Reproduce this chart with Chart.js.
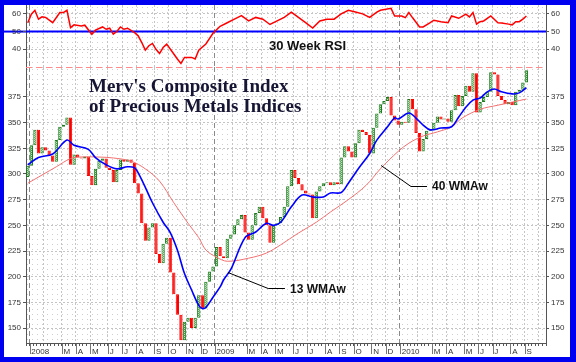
<!DOCTYPE html>
<html lang="en">
<head>
<meta charset="UTF-8">
<title>Merv's Composite Index of Precious Metals Indices</title>
<style>
  body {
    margin: 0;
    width: 576px;
    height: 362px;
    position: relative;
    overflow: hidden;
    background: #fff;
    font-family: "Liberation Sans", Arial, sans-serif;
  }
  #frame {
    position: absolute;
    left: 0; top: 0;
    width: 576px; height: 362px;
    box-sizing: border-box;
    border: 5px solid #0000f0;
    border-left-width: 4px;
    border-right-width: 6px;
    z-index: 5;
    pointer-events: none;
  }
  #rsiChart { position: absolute; left: 0; top: 0; z-index: 2; }
  #priceChart { position: absolute; left: 0; top: 67px; z-index: 1; }
  .title {
    position: absolute;
    left: 89px;
    font: bold 19px "Liberation Serif", "Times New Roman", serif;
    line-height: 20px;
    color: #161634;
    white-space: nowrap;
    z-index: 3;
  }
  .note {
    position: absolute;
    font: bold 12px "Liberation Sans", Arial, sans-serif;
    line-height: 12px;
    color: #111;
    white-space: nowrap;
    z-index: 3;
  }
</style>
</head>
<body>
<canvas id="rsiChart" width="576" height="70"></canvas>
<canvas id="priceChart" width="576" height="295"></canvas>
<div class="title" style="top:76px">Merv's Composite Index</div>
<div class="title" style="top:96px">of Precious Metals Indices</div>
<div class="note" style="left:269px; top:40px; font-size:13px">30 Week RSI</div>
<div class="note" style="left:432px; top:180px">40 WMAw</div>
<div class="note" style="left:290px; top:283px">13 WMAw</div>
<div id="frame"></div>

<script src="https://cdn.jsdelivr.net/npm/chart.js"></script>
<script>
  // weekly closes, first week ends 2007-12-28; each box runs from the previous close
  const firstOpen = 297;
  const closes = [
    308, 328, 343, 320, 326, 323, 318, 312, 333, 346, 348, 355, 309, 319, 316, 315, 317, 298, 289, 305,
    313, 315, 306, 304, 292, 304, 314, 312, 314, 311, 291, 281, 252, 235, 248, 252, 222, 213, 232, 238,
    204, 183, 163, 138, 156, 160, 150, 160, 182, 169, 195, 205, 210, 229, 220, 218, 237, 241, 250, 256,
    260, 243, 236, 250, 262, 268, 257, 250, 233, 250, 252, 258, 268, 288, 304, 296, 290, 284, 281, 280,
    257, 283, 288, 291, 292, 289, 292, 290, 316, 327, 322, 316, 330, 343, 341, 338, 320, 345, 359, 368,
    371, 375, 357, 352, 348, 351, 350, 373, 363, 340, 322, 334, 342, 343, 350, 356, 353, 354, 351, 362,
    377, 366, 376, 386, 380, 398, 360, 370, 375, 380, 399, 397, 376, 372, 368, 370, 367, 380, 382, 389,
    401
  ];

  // 13 week weighted average (blue), read at some weeks
  const ma13Weeks = [0, 3, 7, 11, 13, 17, 19, 22, 25, 28, 30, 31, 33, 35, 38, 40, 42, 44, 46, 48, 49, 50, 52, 54, 55, 57, 61, 64, 67, 69,
    71, 74, 77, 80, 83, 85, 88, 90, 93, 96, 98, 101, 103, 104, 107, 109, 111, 113, 116, 119, 121, 123, 125, 127, 129, 131, 133, 136, 138, 140];
  const ma13 = [309, 316, 319.5, 333, 328, 324, 316, 309, 305, 307, 306, 301, 287, 272, 253, 243, 226, 203, 187, 172, 169, 170, 180, 190, 197, 207, 238, 243.5, 252, 250,
    253, 268, 279.5, 277.6, 277.6, 281.5, 282, 291, 306, 320, 333, 346, 354.6, 353.6, 359.4, 354.5, 347.7, 343, 344.8, 346, 355.5, 365, 372, 374, 380, 382.8, 380, 378, 379, 384];

  // 40 week weighted average (light red)
  const ma40Weeks = [0, 4, 8, 12, 15, 20, 24, 29, 33, 37, 41, 45, 48, 50, 53, 56, 62, 67, 71, 76, 81, 85, 90, 95, 99, 104, 107, 111, 115, 119, 122, 127, 132, 136, 140];
  const ma40 = [291, 299, 307, 315, 316.6, 316.5, 315.6, 312.5, 305, 293, 272, 252, 238, 226, 219, 215, 218, 223, 231, 242.5, 253, 263, 275, 289, 305, 322, 330, 337, 341, 346, 354.6, 363, 367, 370, 373];

  // 30 week RSI
  const rsiWeeks = [0, 1, 2, 3, 4, 5, 7, 9, 10, 11, 12, 13, 15, 16, 18, 19, 21, 22, 23, 24, 25, 26, 27, 28, 30, 31, 32, 33, 34, 35,
    36, 37, 38, 39, 41, 42, 43, 44, 46, 47, 48, 50, 52, 54, 56, 58, 60, 62, 64, 66, 68, 70, 72, 74, 76, 78, 80, 82, 84, 86,
    88, 90, 92, 94, 96, 98, 99, 102, 103, 105, 106, 107, 108, 110, 111, 113, 114, 116, 118, 119, 121, 123, 124, 125, 126, 127, 128, 130, 132, 133,
    135, 136, 137, 138, 139, 140];
  const rsi = [55, 59.8, 62, 57, 58.3, 58, 55, 60.7, 60.7, 62, 52.2, 53.8, 53.2, 53.6, 48.5, 50.8, 52.6, 51.3, 51.9, 48.5, 50, 52.6, 51.3, 51.9, 49.4, 47.6, 43.8, 39.5, 42, 43.3,
    40, 37.6, 41, 42.9, 37.3, 34.5, 32, 35.4, 35.4, 34.5, 39.5, 43, 49, 53, 55, 57, 59, 56, 58, 57, 54, 56, 58, 61, 58, 55, 52, 56, 57, 57,
    60, 62, 61, 60, 58, 61, 62, 63.1, 58.8, 58.8, 57.9, 60.7, 57.9, 52.6, 52.6, 55, 56.4, 55.6, 55, 58.8, 57.5, 59.8, 58.3, 60.7, 54.2, 55.6, 56, 58.8, 55, 54.8,
    54.2, 53.8, 55.6, 55.6, 57, 58.8];

  const priceTicks = [150, 175, 200, 225, 250, 275, 300, 325, 350, 375];
  const rsiTicks = [40, 50, 60];
  const monthLetters = ['', '', 'M', 'A', 'M', 'J', 'J', 'A', 'S', 'O', 'N', 'D']; // January shows the year, February no label
  const weekCount = 146;
  const lastLabelWeek = 141;

  // week labels and month tick text
  const weeks = [];
  const monthText = [];
  const newMonth = [];
  const start = Date.UTC(2007, 11, 28);
  for (let i = 0; i < weekCount; i++) {
    const d = new Date(start + i * 7 * 86400000);
    const p = new Date(start + (i - 1) * 7 * 86400000);
    weeks.push(d.toISOString().slice(0, 10));
    const changed = i > 0 && d.getUTCMonth() !== p.getUTCMonth();
    newMonth.push(changed);
    const m = d.getUTCMonth();
    monthText.push(changed && i <= lastLabelWeek ? (m === 0 ? String(d.getUTCFullYear()) : monthLetters[m]) : '');
  }
  const newYear = weeks.map((w, i) => newMonth[i] && w.slice(5, 7) === '01');

  const boxes = closes.map((c, i) => [i ? closes[i - 1] : firstOpen, c]);
  const asPoints = (idx, vals) => idx.map((k, j) => ({ x: weeks[k], y: vals[j] }));

  // green stipple fill for rising weeks
  function makeStipple(a, b) {
    const c = document.createElement('canvas');
    c.width = 2; c.height = 2;
    const g = c.getContext('2d');
    g.fillStyle = b; g.fillRect(0, 0, 2, 2);
    g.fillStyle = a; g.fillRect(0, 0, 1, 1); g.fillRect(1, 1, 1, 1);
    return g.createPattern(c, 'repeat');
  }
  const upFill = makeStipple('#3a9a3a', '#b8e6b8');

  // faint dot texture behind the plot
  function makeDots() {
    const c = document.createElement('canvas');
    c.width = 5; c.height = 5;
    const g = c.getContext('2d');
    g.fillStyle = '#cfcfcf';
    g.fillRect(2, 2, 1, 1);
    return g.createPattern(c, 'repeat');
  }
  const dotFill = makeDots();
  const dotPlugin = {
    id: 'dots',
    beforeDraw(chart) {
      const a = chart.chartArea;
      const ctx = chart.ctx;
      ctx.save();
      ctx.fillStyle = dotFill;
      ctx.fillRect(a.left, a.top, a.right - a.left, a.bottom - a.top);
      ctx.restore();
    }
  };

  const tickFont = { family: 'Liberation Sans', size: 8 };
  const gridColor = ctx => newYear[ctx.index] ? '#8a8a8a' : (newMonth[ctx.index] ? '#c4c4c4' : 'rgba(0,0,0,0)');
  const gridDash = ctx => newYear[ctx.index] ? [5, 3] : [2, 2];

  function yAxis(pos, min, max, ticks, width, onArea) {
    return {
      position: pos,
      min: min,
      max: max,
      afterBuildTicks: s => { s.ticks = ticks.map(v => ({ value: v })); },
      afterFit: s => { s.width = width; s.paddingTop = 0; s.paddingBottom = 0; },
      ticks: { font: tickFont, color: '#333', padding: 2 },
      grid: { drawOnChartArea: onArea, color: '#c4c4c4', tickColor: '#555', tickLength: 3 },
      border: { color: '#555', dash: [2, 2] }
    };
  }

  // RSI panel: blue 50 line (runs under the left labels too) and dashed 30 line
  const rsiLines = {
    id: 'rsiLines',
    beforeDraw(chart) {
      const ctx = chart.ctx;
      const y = chart.scales.y.getPixelForValue(50);
      ctx.save();
      ctx.strokeStyle = '#0000ff';
      ctx.lineWidth = 2;
      ctx.beginPath();
      ctx.moveTo(0, y);
      ctx.lineTo(chart.chartArea.left, y);
      ctx.stroke();
      ctx.restore();
    },
    beforeDatasetsDraw(chart) {
      const ctx = chart.ctx;
      const a = chart.chartArea;
      const y = chart.scales.y;
      const y30 = Math.round(y.getPixelForValue(30)) + 0.5;
      ctx.save();
      ctx.strokeStyle = '#ff8c8c';
      ctx.lineWidth = 1;
      ctx.setLineDash([6, 4]);
      ctx.beginPath();
      ctx.moveTo(a.left, y30);
      ctx.lineTo(a.right, y30);
      ctx.stroke();
      ctx.setLineDash([]);
      ctx.strokeStyle = '#0000ff';
      ctx.lineWidth = 2;
      ctx.beginPath();
      ctx.moveTo(a.left, y.getPixelForValue(50));
      ctx.lineTo(a.right, y.getPixelForValue(50));
      ctx.stroke();
      ctx.restore();
    }
  };

  new Chart(document.getElementById('rsiChart'), {
    type: 'line',
    data: {
      labels: weeks,
      datasets: [{
        data: asPoints(rsiWeeks, rsi),
        borderColor: '#ff0000',
        borderWidth: 1.5,
        pointRadius: 0,
        tension: 0
      }]
    },
    options: {
      responsive: false,
      animation: false,
      layout: { padding: { top: 5 } },
      plugins: { legend: { display: false }, tooltip: { enabled: false } },
      scales: {
        x: {
          type: 'category',
          offset: true,
          ticks: { display: false },
          grid: { offset: true, color: gridColor, drawTicks: false },
          border: { display: false, dash: gridDash },
          afterFit: s => { s.height = 0; s.paddingLeft = 0; s.paddingRight = 0; }
        },
        y: yAxis('left', 28.3, 65, rsiTicks, 26, true),
        y2: yAxis('right', 28.3, 65, rsiTicks, 30, false)
      }
    },
    plugins: [dotPlugin, rsiLines]
  });

  // leader lines for the two averages, in week / value units
  const leaders = [
    [[56.2, 204.5], [67.5, 189], [72.2, 189]],
    [[99.2, 308.8], [107.6, 288.4], [112.1, 288.4]]
  ];
  const leaderPlugin = {
    id: 'leaders',
    afterDatasetsDraw(chart) {
      const ctx = chart.ctx;
      const x = chart.scales.x, y = chart.scales.y;
      ctx.save();
      ctx.strokeStyle = '#000';
      ctx.lineWidth = 1;
      leaders.forEach(pts => {
        ctx.beginPath();
        pts.forEach((p, k) => {
          const px = x.getPixelForValue(p[0]);
          const py = Math.round(y.getPixelForValue(p[1])) + 0.5;
          if (k) ctx.lineTo(px, py); else ctx.moveTo(px, py);
        });
        ctx.stroke();
      });
      ctx.restore();
    },
    // short marks in front of each month label
    afterDraw(chart) {
      const ctx = chart.ctx;
      const x = chart.scales.x;
      const top = chart.chartArea.bottom;
      ctx.save();
      ctx.strokeStyle = '#777';
      ctx.lineWidth = 1;
      monthText.forEach((t, i) => {
        if (!t) return;
        const px = Math.round((x.getPixelForValue(i) + x.getPixelForValue(i - 1)) / 2) + 0.5;
        ctx.beginPath();
        ctx.moveTo(px, top + 1);
        ctx.lineTo(px, top + 11);
        ctx.stroke();
      });
      ctx.restore();
    }
  };

  new Chart(document.getElementById('priceChart'), {
    type: 'bar',
    data: {
      labels: weeks,
      datasets: [
        {
          type: 'line',
          data: asPoints(ma13Weeks, ma13),
          borderColor: '#0000ff',
          borderWidth: 1.6,
          pointRadius: 0,
          tension: 0.35,
          order: 1
        },
        {
          type: 'line',
          data: asPoints(ma40Weeks, ma40),
          borderColor: '#f27070',
          borderWidth: 1,
          pointRadius: 0,
          tension: 0.35,
          order: 2
        },
        {
          data: boxes,
          backgroundColor: ctx => { const b = boxes[ctx.dataIndex]; return b && b[1] >= b[0] ? upFill : '#ff0000'; },
          borderColor: ctx => { const b = boxes[ctx.dataIndex]; return b && b[1] >= b[0] ? '#1c7a1c' : '#ff0000'; },
          borderWidth: 1,
          borderSkipped: false,
          barPercentage: 1,
          categoryPercentage: 0.92,
          order: 3
        }
      ]
    },
    options: {
      responsive: false,
      animation: false,
      plugins: { legend: { display: false }, tooltip: { enabled: false } },
      scales: {
        x: {
          type: 'category',
          offset: true,
          ticks: {
            autoSkip: false,
            maxRotation: 0,
            align: 'start',
            padding: 1,
            font: tickFont,
            color: '#333',
            callback: (v, i) => monthText[i]
          },
          grid: { offset: true, color: gridColor, tickColor: '#555', tickLength: 3 },
          border: { color: '#555', dash: gridDash },
          afterFit: s => { s.height = 19; s.paddingLeft = 0; s.paddingRight = 0; }
        },
        y: yAxis('left', 135.4, 404.2, priceTicks, 26, true),
        y2: yAxis('right', 135.4, 404.2, priceTicks, 30, false)
      }
    },
    plugins: [dotPlugin, leaderPlugin]
  });
</script>
</body>
</html>
